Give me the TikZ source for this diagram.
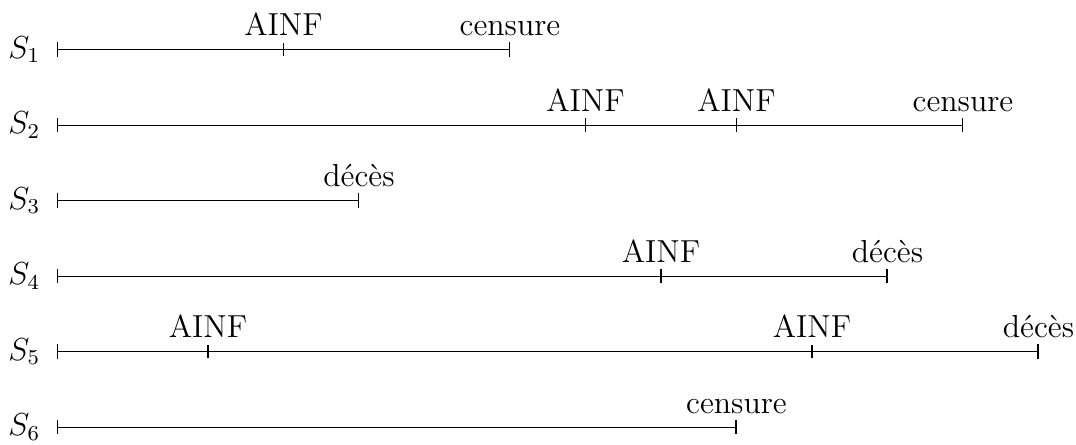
\documentclass[tikz,border=0pt]{standalone}
\begin{document}
\begin{tikzpicture}[
  tl/.style={|-|},
  sname/.style={anchor=east, font=\large, inner sep=0pt},
  ev/.style={anchor=base, font=\large, inner sep=0pt, yshift=0.18cm}
]
\useasboundingbox (-0.755,-0.225) rectangle (13.497,5.656);
% subjects
\foreach \i/\y/\e in {1/5/6, 2/4/12, 3/3/4, 4/2/11, 5/1/13, 6/0/9} {
  \coordinate (b\i) at (0,\y);
  \coordinate (e\i) at (\e,\y);
  \node[sname] (n\i) at (-0.215,\y) {$S_{\i}$};
  \draw[tl] (b\i) -- (e\i);
}
% inner ticks
\foreach \n/\x/\y in {t11/3/5, t21/7/4, t22/9/4, t41/8/2, t51/2/1, t52/10/1} {
  \coordinate (\n) at (\x,\y);
  \draw ([yshift=-2.6pt]\n) -- ([yshift=2.6pt]\n);
}
% event labels
\node[ev] (l11) at (t11) {AINF};
\node[ev] (l12) at (e1) {censure};
\node[ev] (l21) at (t21) {AINF};
\node[ev] (l22) at (t22) {AINF};
\node[ev] (l23) at (e2) {censure};
\node[ev] (l31) at (e3) {décès};
\node[ev] (l41) at (t41) {AINF};
\node[ev] (l42) at (e4) {décès};
\node[ev] (l51) at (t51) {AINF};
\node[ev] (l52) at (t52) {AINF};
\node[ev] (l53) at (e5) {décès};
\node[ev] (l61) at (e6) {censure};
\end{tikzpicture}
\end{document}
